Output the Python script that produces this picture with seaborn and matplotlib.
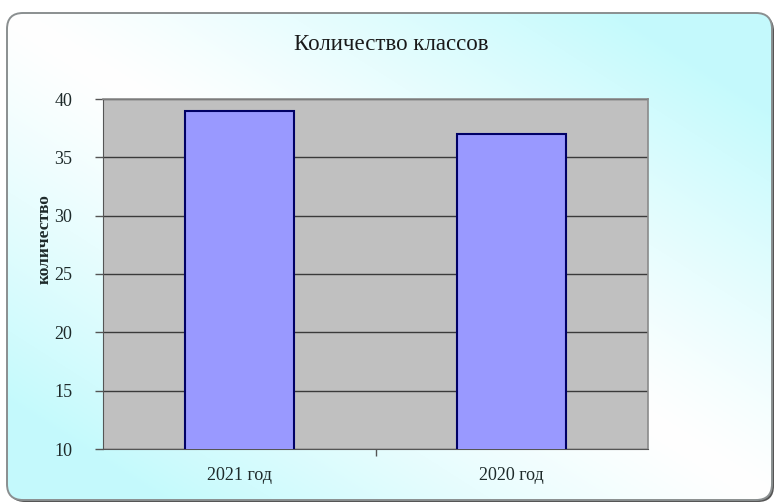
import numpy as np
import matplotlib
matplotlib.use("Agg")
import matplotlib.pyplot as plt
import seaborn as sns
from matplotlib.patches import FancyBboxPatch

categories = ["2021 год", "2020 год"]
counts = [39, 37]
title = "Количество классов"
ylabel = "количество"
yticks = [10, 15, 20, 25, 30, 35, 40]

sns.set_style("white")
plt.rcParams["font.family"] = ["Liberation Serif", "DejaVu Serif"]

W, H = 774, 503
fig = plt.figure(figsize=(W / 100, H / 100), dpi=100)

# background: rounded frame with a white/cyan gradient
bg = fig.add_axes([0, 0, 1, 1])
bg.set_xlim(0, W)
bg.set_ylim(H, 0)
bg.axis("off")
box = (7, 13, 765, 487)
shadow = FancyBboxPatch((box[0] + 2, box[1] + 2), box[2], box[3],
                        boxstyle="round,pad=0,rounding_size=16",
                        facecolor="#555555", edgecolor="none", zorder=0)
bg.add_patch(shadow)
gx, gy = np.meshgrid(np.linspace(0, 1, 200), np.linspace(0, 1, 200))
t = np.clip(np.abs(gx - gy) * 1.25, 0, 1) ** 1.2
white = np.array([1.0, 1.0, 1.0])
cyan = np.array([0.77, 0.98, 0.99])
img = white + (cyan - white) * t[..., None]
im = bg.imshow(img, extent=(box[0], box[0] + box[2], box[1] + box[3], box[1]),
               aspect="auto", zorder=1)
clip = FancyBboxPatch(box[:2], box[2], box[3], boxstyle="round,pad=0,rounding_size=16",
                      facecolor="none", edgecolor="none", transform=bg.transData)
im.set_clip_path(clip)
frame = FancyBboxPatch(box[:2], box[2], box[3], boxstyle="round,pad=0,rounding_size=16",
                       facecolor="none", edgecolor="#8a8f90", linewidth=1.4, zorder=3)
bg.add_patch(frame)

# plot area
ax = fig.add_axes([103 / W, (H - 449) / H, 545 / W, 350 / H])
ax.set_facecolor("#c0c0c0")
sns.barplot(x=categories, y=counts, ax=ax, color="#9999ff", width=0.4,
            edgecolor="#000066", linewidth=1.5, saturation=1, zorder=3)
ax.set_ylim(10, 40)
ax.set_xlim(-0.5, 1.5)
ax.set_yticks(yticks)
ax.yaxis.grid(True, color="#3a3a3a", linewidth=1.0, zorder=0)
ax.set_axisbelow(True)
for side in ["top", "right"]:
    ax.spines[side].set_color("#8a8a8a")
    ax.spines[side].set_linewidth(1.2)
ax.spines["left"].set_color("#555555")
ax.spines["bottom"].set_color("#555555")
ax.tick_params(axis="y", direction="out", length=6, width=1, color="#555555",
               labelsize=13, labelcolor="#1e2a2a", pad=16, left=True)
ax.tick_params(axis="x", length=0, labelsize=13, labelcolor="#1e2a2a", pad=13)
ax.set_xticks([0.5], minor=True)
ax.tick_params(axis="x", which="minor", length=5, width=1, color="#555555", bottom=True)
ax.set_xlabel("")
ax.set_ylabel(ylabel, fontsize=12.5, fontweight="bold", color="#1e2a2a")
ax.yaxis.set_label_coords(-0.092, 0.6)

fig.text(391 / W, 1 - 45 / H, title, ha="center", va="center", fontsize=16.5,
         color="#1a1a1a")

fig.savefig("out.png", dpi=100)
